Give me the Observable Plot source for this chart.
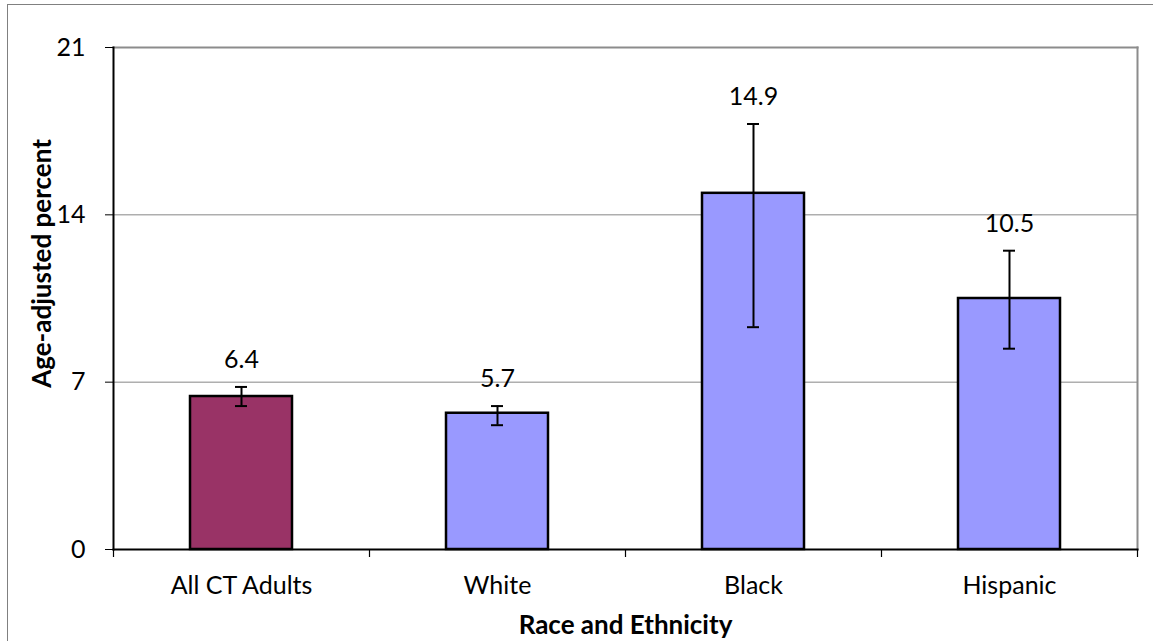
<!DOCTYPE html>
<html>
<head>
<meta charset="utf-8">
<script src="https://cdn.jsdelivr.net/npm/d3@7"></script>
<script src="https://cdn.jsdelivr.net/npm/@observablehq/plot@0.6"></script>
<style>
  html, body { margin: 0; padding: 0; background: #fff; }
  #wrap { position: relative; width: 1153px; height: 641px; overflow: hidden; }
  #border { position: absolute; left: 7px; top: 4px; width: 1160px; height: 660px;
            border-top: 1.3px solid #808080; border-left: 1.3px solid #808080; pointer-events: none; }
  #chart { position: absolute; left: 0; top: 0; }
</style>
</head>
<body>
<div id="wrap"><div id="chart"></div><div id="border"></div></div>
<script>
const categories = ["All CT Adults", "White", "Black", "Hispanic"];
const values = [6.4, 5.7, 14.9, 10.5];
const lower = [6.0, 5.2, 9.3, 8.4];
const upper = [6.8, 6.0, 17.8, 12.5];
const yTicks = [0, 7, 14, 21];

const data = categories.map((c, i) => ({cat: c, value: values[i], lo: lower[i], hi: upper[i], i}));

const FONT = "Lato, 'Liberation Sans', sans-serif";
const purple = "#993366", blue = "#9999FF";

const chart = Plot.plot({
  width: 1153,
  height: 641,
  marginTop: 47,
  marginRight: 16,
  marginBottom: 92,
  marginLeft: 113,
  style: {fontFamily: FONT, fontSize: "25px", color: "#000", background: "#fff", overflow: "visible"},
  x: {domain: categories, paddingInner: 0.6, paddingOuter: 0.3, label: null},
  y: {domain: [0, 21], label: null},
  marks: [
    Plot.gridY([7, 14], {stroke: "#868686", strokeOpacity: 1, strokeWidth: 1}),
    Plot.frame({anchor: "top", stroke: "#8c8c8c", strokeWidth: 2}),
    Plot.frame({anchor: "right", stroke: "#8c8c8c", strokeWidth: 2}),
    Plot.barY(data, {x: "cat", y: "value", fill: d => d.i === 0 ? purple : blue, stroke: "#000", strokeWidth: 2.5}),
    Plot.ruleX(data, {x: "cat", y1: "lo", y2: "hi", stroke: "#000", strokeWidth: 2}),
    Plot.tickY(data, {x: "cat", y: "lo", insetLeft: 45, insetRight: 45, stroke: "#000", strokeWidth: 2}),
    Plot.tickY(data, {x: "cat", y: "hi", insetLeft: 45, insetRight: 45, stroke: "#000", strokeWidth: 2}),
    Plot.text(data, {x: "cat", y: "hi", text: d => d.value.toFixed(1), dy: -19, lineAnchor: "bottom", fontSize: 25, fill: "#000"}),
    Plot.frame({anchor: "left", stroke: "#000", strokeWidth: 2}),
    Plot.frame({anchor: "bottom", stroke: "#000", strokeWidth: 2}),
    Plot.ruleX(categories, {x: d => d, dx: -128, insetTop: 502, insetBottom: -8, stroke: "#000", strokeWidth: 1.2}),
    Plot.ruleX(categories.slice(-1), {x: d => d, dx: 128, insetTop: 502, insetBottom: -8, stroke: "#000", strokeWidth: 1.2}),
    Plot.axisY({ticks: yTicks, tickSize: 8, tickPadding: 20, tickFormat: d => String(d), label: null, stroke: "#000", fontSize: 25}),
    Plot.axisX({tickSize: 0, tickPadding: 27, label: null, fontSize: 25}),
    Plot.text(["Age-adjusted percent"], {frameAnchor: "left", dx: -71, dy: -35, rotate: -90, textAnchor: "middle", lineAnchor: "middle", fontWeight: "bold", fontSize: 26, fill: "#000"}),
    Plot.text(["Race and Ethnicity"], {frameAnchor: "bottom", dy: 76, textAnchor: "middle", lineAnchor: "middle", fontWeight: "bold", fontSize: 26, fill: "#000"})
  ]
});
document.getElementById("chart").appendChild(chart);
</script>
</body>
</html>
